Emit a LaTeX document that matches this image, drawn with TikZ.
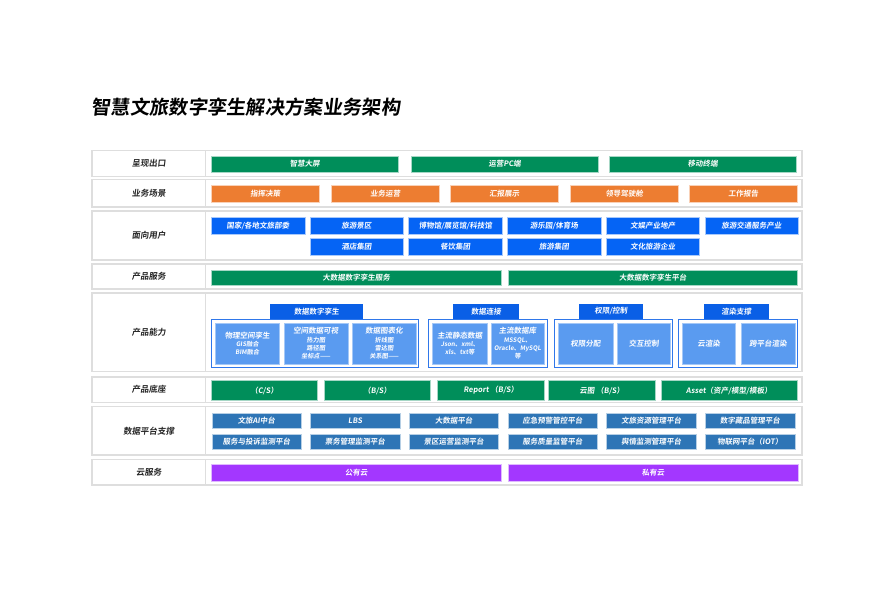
\documentclass[tikz,border=0pt]{standalone}
\usepackage{fontspec}
\setmainfont{Noto Sans CJK SC Bold}[FakeSlant=0.12]
\usepackage{tikz}
\definecolor{outgreen}{RGB}{0,142,90}
\definecolor{sceneorange}{RGB}{237,125,49}
\definecolor{userblue}{RGB}{5,100,245}
\definecolor{tabblue}{RGB}{10,95,230}
\definecolor{abilityblue}{RGB}{90,155,240}
\definecolor{platblue}{RGB}{46,117,182}
\definecolor{cloudpurple}{RGB}{163,55,255}
\definecolor{rowgray}{RGB}{222,222,222}
\newcommand\subline[1]{{\fontsize{6.2}{7.5}\selectfont #1}}

\begin{document}
\begin{tikzpicture}[x=1pt, y=-1pt,
    rowcell/.style={draw=rowgray, line width=1.6pt, fill=white},
    rowlabel/.style={font=\fontsize{8.5}{10}\selectfont, text=black!85},
    bar/.style={rectangle, anchor=north west, inner sep=0pt, draw=white!65!#1, line width=0.5pt, fill=#1, text=white, font=\fontsize{7.5}{9}\selectfont},
    group/.style={draw=tabblue!85!white, line width=1pt, fill=white},
    tab/.style={rectangle, anchor=north west, inner sep=0pt, fill=tabblue, text=white, minimum height=15.5pt, font=\fontsize{7.5}{9}\selectfont},
    ability/.style={rectangle, anchor=north west, inner sep=0pt, fill=abilityblue, draw=abilityblue!55!white, line width=0.8pt, text=white, align=center, minimum height=41pt, font=\fontsize{7.5}{8.3}\selectfont}
]
    \useasboundingbox[fill=white] (0,0) rectangle (892,594);
    \node[anchor=west, font=\fontsize{19.3}{22}\selectfont] (title) at (88,107.5) {智慧文旅数字孪生解决方案业务架构};

    % rows
    \foreach \t/\b/\name [count=\i] in {150.5/176.5/呈现出口, 179.5/207/业务场景, 211/260/面向用户, 264/289/产品服务, 293/371.5/产品能力, 377/402.5/产品底座, 406.5/455/数据平台支撑, 459.5/485/云服务} {
        \draw[rowcell] (92,\t) rectangle (205.5,\b);
        \draw[rowcell] (205.5,\t) rectangle (802,\b);
        \node[rowlabel] (row\i) at (148.75,{(\t+\b)/2}) {\name};
    }

    % 呈现出口
    \foreach \x/\t [count=\i] in {211/智慧大屏, 411/运营PC端, 609/移动终端}
        \node[bar=outgreen, minimum width=187pt, minimum height=15.5pt] (screen\i) at (\x,156) {\t};

    % 业务场景
    \foreach \x/\t [count=\i] in {211/指挥决策, 331/业务运营, 450/汇报展示, 570/领导驾驶舱, 689/工作报告}
        \node[bar=sceneorange, minimum width=108pt, minimum height=17.5pt] (scene\i) at (\x,184.7) {\t};

    % 面向用户
    \foreach \t [count=\i from 0] in {{国家/各地文旅部委}, 旅游景区, {博物馆/展览馆/科技馆}, {游乐园/体育场}, 文娱产业地产, 旅游交通服务产业}
        \node[bar=userblue, minimum width=93.5pt, minimum height=16.5pt] (user\i) at ({211+\i*98.7},217.3) {\t};
    \foreach \i/\t in {1/酒店集团, 2/餐饮集团, 3/旅游集团, 4/文化旅游企业}
        \node[bar=userblue, minimum width=93.5pt, minimum height=16.5pt] (group\i) at ({211+\i*98.7},238.3) {\t};

    % 产品服务
    \node[bar=outgreen, minimum width=290pt, minimum height=14.5pt] (service1) at (211,270) {大数据数字孪生服务};
    \node[bar=outgreen, minimum width=289pt, minimum height=14.5pt] (service2) at (508,270) {大数据数字孪生平台};

    % 产品能力
    \draw[group] (211.5,319) rectangle (418.5,367);
    \draw[group] (428.5,319) rectangle (547,367);
    \draw[group] (554,319) rectangle (672.5,367);
    \draw[group] (678.5,319) rectangle (797.5,367);
    \node[tab, minimum width=93pt] (twin) at (270,303.5) {数据数字孪生};
    \node[tab, minimum width=66pt] (link) at (453,303.5) {数据连接};
    \node[tab, minimum width=64.5pt] (auth) at (578.5,303.5) {权限/控制};
    \node[tab, minimum width=64.5pt] (render) at (704,303.5) {渲染支撑};

    \node[ability, minimum width=64pt] (physical) at (215,322.5) {物理空间孪生\\\subline{GIS融合}\\\subline{BIM融合}};
    \node[ability, minimum width=64pt] (spatial) at (283.5,322.5) {空间数据可视\\\subline{热力图}\\\subline{路径图}\\\subline{坐标点——}};
    \node[ability, minimum width=63.5pt] (chart) at (352,322.5) {数据图表化\\\subline{折线图}\\\subline{雷达图}\\\subline{关系图——}};
    \node[ability, minimum width=55pt] (static) at (432,322.5) {主流静态数据\\\subline{Json、xml、}\\\subline{xls、txt等}};
    \node[ability, minimum width=53.5pt] (database) at (490.5,322.5) {主流数据库\\\subline{MSSQL、}\\\subline{Oracle、MySQL}\\\subline{等}};
    \node[ability, minimum width=54.5pt] (assign) at (558,322.5) {权限分配};
    \node[ability, minimum width=53pt] (interact) at (617,322.5) {交互控制};
    \node[ability, minimum width=53pt] (cloudrender) at (682,322.5) {云渲染};
    \node[ability, minimum width=54.5pt] (crossrender) at (740.5,322.5) {跨平台渲染};

    % 产品底座
    \foreach \x/\w/\t [count=\i] in {211/106/{（C/S）}, 324/106/{（B/S）}, 437.3/107/{Report （B/S）}, 548.3/106.7/{云图 （B/S）}, 660.7/136/{Asset（资产/模型/模板）}}
        \node[bar=outgreen, minimum width=\w pt, minimum height=20pt] (base\i) at (\x,380.3) {\t};

    % 数据平台支撑
    \foreach \t [count=\i from 0] in {文旅AI中台, LBS, 大数据平台, 应急预警管控平台, 文旅资源管理平台, 数字藏品管理平台}
        \node[bar=platblue, minimum width=89.5pt, minimum height=15pt] (plat\i) at ({211.5+\i*98.7},413) {\t};
    \foreach \t [count=\i from 0] in {服务与投诉监测平台, 票务管理监测平台, 景区运营监测平台, 服务质量监管平台, 舆情监测管理平台, 物联网平台（IOT）}
        \node[bar=platblue, minimum width=89.5pt, minimum height=15.5pt] (monitor\i) at ({211.5+\i*98.7},433.5) {\t};

    % 云服务
    \node[bar=cloudpurple, minimum width=290pt, minimum height=17.5pt] (public) at (211,463.5) {公有云};
    \node[bar=cloudpurple, minimum width=289.5pt, minimum height=17.5pt] (private) at (508,463.5) {私有云};
\end{tikzpicture}
\end{document}
